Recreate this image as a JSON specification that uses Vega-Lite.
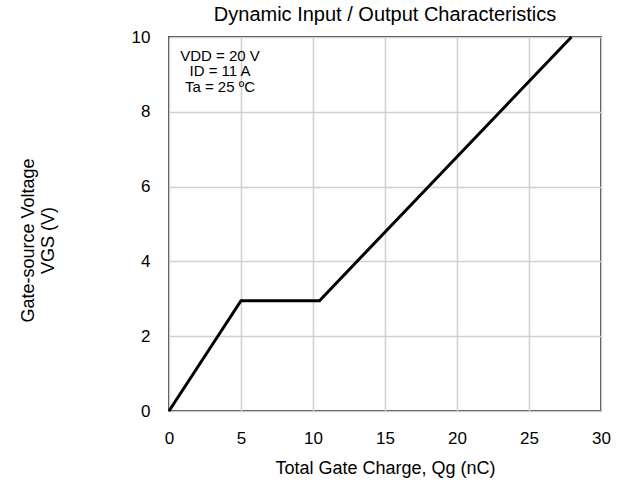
{
  "$schema": "https://vega.github.io/schema/vega-lite/v6.json",
  "width": 432,
  "height": 374,
  "autosize": "none",
  "padding": {"left": 169, "top": 37, "right": 28, "bottom": 76},
  "background": "white",
  "config": {
    "font": "Liberation Sans",
    "view": {"stroke": "black", "strokeWidth": 1.5},
    "axis": {
      "grid": true,
      "gridColor": "#d0d0d0",
      "gridWidth": 1.5,
      "domain": false,
      "ticks": false,
      "labelFont": "Liberation Sans",
      "labelFontSize": 17,
      "labelColor": "black",
      "labelFlush": false,
      "titleFont": "Liberation Sans",
      "titleFontSize": 18,
      "titleFontWeight": "normal",
      "titleColor": "black"
    }
  },
  "title": {
    "text": "Dynamic Input / Output Characteristics",
    "fontSize": 20,
    "fontWeight": "normal",
    "font": "Liberation Sans",
    "color": "black",
    "offset": 3
  },
  "layer": [
    {
      "data": {"values": [
        {"qg": 0, "vgs": 0},
        {"qg": 5.0, "vgs": 2.95},
        {"qg": 10.45, "vgs": 2.95},
        {"qg": 27.95, "vgs": 10}
      ]},
      "mark": {"type": "line", "color": "black", "strokeWidth": 3},
      "encoding": {
        "x": {
          "field": "qg", "type": "quantitative",
          "scale": {"domain": [0, 30], "nice": false},
          "axis": {"values": [0, 5, 10, 15, 20, 25, 30], "labelPadding": 19, "title": "Total Gate Charge, Qg (nC)", "titlePadding": 13}
        },
        "y": {
          "field": "vgs", "type": "quantitative",
          "scale": {"domain": [0, 10], "nice": false},
          "axis": {"values": [0, 2, 4, 6, 8, 10], "labelPadding": 19, "title": ["Gate-source Voltage", "VGS (V)"], "titleX": -141, "titleY": 203, "titleAngle": -90, "titleAlign": "center", "titleBaseline": "middle"}
        }
      }
    },
    {
      "data": {"values": [
        {"x": 3.54, "y": 9.49, "label": "VDD = 20 V"},
        {"x": 3.54, "y": 9.08, "label": "ID = 11 A"},
        {"x": 3.54, "y": 8.66, "label": "Ta = 25 ºC"}
      ]},
      "mark": {"type": "text", "fontSize": 15, "color": "black", "align": "center", "baseline": "middle", "font": "Liberation Sans"},
      "encoding": {
        "x": {"field": "x", "type": "quantitative"},
        "y": {"field": "y", "type": "quantitative"},
        "text": {"field": "label"}
      }
    }
  ]
}
